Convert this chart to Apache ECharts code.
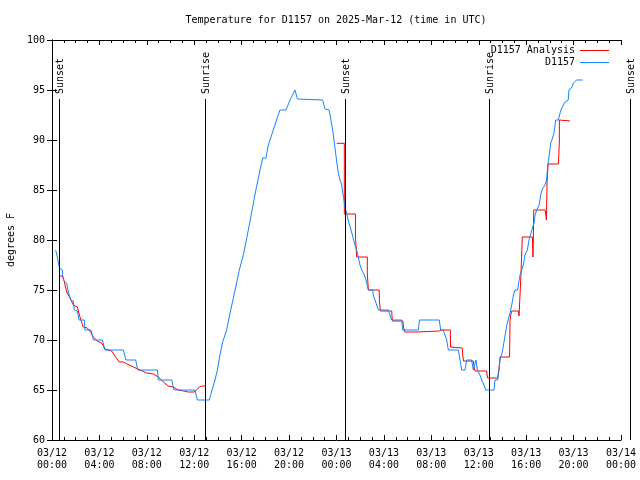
<!DOCTYPE html>
<html>
<head>
<meta charset="utf-8">
<script src="https://cdn.jsdelivr.net/npm/echarts@6/dist/echarts.min.js"></script>
<style>html,body{margin:0;padding:0;background:#fff;}#c{width:640px;height:480px;}</style>
</head>
<body>
<div id="c"></div>
<script>
// Hours since 2025-03-12 00:00 UTC
const tickLabels = ['03/12\n00:00','03/12\n04:00','03/12\n08:00','03/12\n12:00','03/12\n16:00','03/12\n20:00',
  '03/13\n00:00','03/13\n04:00','03/13\n08:00','03/13\n12:00','03/13\n16:00','03/13\n20:00','03/14\n00:00'];

const eventHours = [0.57, 12.87, 24.68, 36.87, 48.75];
const eventLabels = ['Sunset', 'Sunrise', 'Sunset', 'Sunrise', 'Sunset'];

const analysis = [
  [0.62,76.4],[0.87,76.4],[1.0,76.0],[1.24,74.8],[1.52,74.2],[1.8,73.5],[2.14,73.3],[2.36,72.3],[2.64,71.3],
  [2.98,71.2],[3.26,70.8],[3.49,70.3],[3.82,69.9],[4.19,69.7],[4.47,69.1],[5.03,68.9],[5.31,68.4],[5.68,67.8],
  [6.02,67.8],[6.35,67.6],[6.86,67.3],[7.42,67.0],[7.99,66.7],[8.55,66.6],[8.97,66.3],[9.39,65.8],[9.81,65.4],
  [10.23,65.3],[10.66,65.0],[11.08,64.9],[11.5,64.8],[11.98,64.8],[12.2,65.0],[12.43,65.3],[12.63,65.4],[12.97,65.4],
  [18.0,null],
  [24.02,89.67],[24.66,89.67],[24.66,82.6],[25.6,82.6],[25.6,80.4],[25.7,80.4],[25.7,78.3],[26.6,78.3],[26.6,76.6],
  [26.69,76.6],[26.69,75.0],[27.6,75.0],[27.62,73.9],[27.7,72.9],[28.66,72.9],[28.68,72.4],[28.72,71.9],[29.6,71.9],
  [29.65,71.3],[29.75,70.8],[30.7,70.8],[30.7,70.9],[32.7,70.9],[32.9,71.0],[33.6,71.0],[33.62,69.3],[34.6,69.2],
  [34.65,68.5],[34.72,67.9],[35.54,67.9],[35.6,67.4],[35.68,66.9],[36.67,66.9],[36.7,66.5],[36.75,66.2],[37.6,66.2],
  [37.65,66.4],[37.72,67.3],[37.8,68.3],[38.6,68.3],[38.64,72.0],[38.7,72.5],[38.78,72.9],[39.34,72.9],[39.4,72.4],
  [39.56,72.4],[39.56,76.5],[39.67,76.5],[39.67,80.3],[40.52,80.3],[40.58,78.3],[40.64,83.0],[41.59,83.0],[41.64,82.7],
  [41.71,82.0],[41.76,85.7],[41.85,87.6],[42.72,87.6],[42.8,89.8],[42.8,92.0],[43.7,91.9]
];

const observed = [
  [0.31,79.0],[0.45,78.3],[0.53,77.8],[0.62,77.2],[0.87,77.0],[0.9,76.5],[1.01,75.9],[1.24,75.7],[1.38,74.8],
  [1.58,74.0],[1.8,73.9],[1.88,73.0],[2.14,72.9],[2.28,72.0],[2.73,72.0],[2.78,71.0],[3.29,71.0],[3.49,70.0],
  [4.25,70.0],[4.47,69.0],[6.02,69.0],[6.24,68.0],[7.06,68.0],[7.23,67.0],[8.89,67.0],[8.97,66.0],[10.1,66.0],
  [10.29,65.0],[12.06,65.0],[12.26,64.0],[13.27,64.0],[13.5,65.0],[13.75,66.0],[13.95,67.0],[14.17,68.5],
  [14.37,69.7],[14.73,71.0],[15.02,72.7],[15.3,74.2],[15.63,76.0],[15.8,77.0],[16.1,78.3],[16.4,80.0],[16.8,82.5],
  [17.2,85.0],[17.55,87.0],[17.77,88.2],[18.05,88.2],[18.25,89.5],[18.67,91.0],[19.0,92.2],[19.23,93.0],[19.74,93.0],
  [20.08,94.0],[20.5,95.0],[20.7,94.1],[20.75,94.0],[22.83,94.0],[23.03,93.1],[23.37,93.0],[23.5,92.2],[23.68,91.0],
  [23.82,89.7],[24.0,88.0],[24.15,86.7],[24.3,86.0],[24.44,85.5],[24.52,84.8],[24.63,84.0],[24.72,83.2],[24.86,82.7],
  [24.94,82.2],[25.05,81.7],[25.2,81.1],[25.34,80.5],[25.42,80.1],[25.56,79.5],[25.7,79.0],[25.84,78.3],[25.98,77.5],
  [26.13,77.0],[26.35,76.5],[26.49,76.0],[26.69,75.0],[27.05,75.0],[27.1,74.5],[27.25,74.0],[27.39,73.5],[27.53,73.0],
  [28.37,73.0],[28.51,72.5],[28.66,72.0],[29.5,72.0],[29.58,71.0],[30.9,71.0],[31.0,72.0],[32.67,72.0],[32.79,71.0],
  [33.0,71.0],[33.15,70.5],[33.3,70.0],[33.43,69.0],[34.28,69.0],[34.42,68.0],[34.56,67.0],[34.84,67.0],[34.98,68.0],
  [35.4,68.0],[35.54,67.0],[35.77,68.0],[35.88,67.0],[36.1,66.5],[36.25,66.0],[36.44,65.5],[36.59,65.0],[37.29,65.0],
  [37.37,66.0],[37.6,66.0],[37.71,67.0],[37.79,68.0],[37.99,68.8],[38.13,69.8],[38.27,70.8],[38.41,71.7],[38.64,72.7],
  [38.78,73.5],[38.86,74.0],[38.92,74.5],[39.06,75.0],[39.28,75.0],[39.34,75.5],[39.48,76.5],[39.62,77.0],[39.76,77.5],
  [39.9,78.5],[40.1,79.0],[40.24,80.0],[40.41,80.7],[40.52,81.2],[40.66,81.7],[40.75,82.5],[40.89,83.0],[41.1,83.5],
  [41.22,84.5],[41.36,85.1],[41.59,85.5],[41.73,86.0],[41.82,87.5],[41.95,88.5],[42.07,89.7],[42.2,90.1],[42.35,90.7],
  [42.49,92.0],[42.71,92.0],[42.86,92.7],[43.0,93.2],[43.28,93.8],[43.33,94.0],[43.55,94.0],[43.61,95.0],[43.83,95.2],
  [43.98,95.7],[44.26,96.0],[44.77,96.0]
];

const FONT = 'DejaVu Sans Mono';
const LINE_TOP = 94.1;

const chart = echarts.init(document.getElementById('c'), null, {renderer: 'canvas'});
const xCommon = {
  type: 'value', min: 0, max: 48, interval: 4,
  axisLine: {show: true, lineStyle: {color: '#000', width: 1}},
  axisTick: {show: true, inside: true, length: 5, lineStyle: {color: '#000'}},
  minorTick: {show: true, splitNumber: 4, length: 3, lineStyle: {color: '#000'}},
  splitLine: {show: false}
};
const yCommon = {
  type: 'value', min: 60, max: 100, interval: 5,
  axisLine: {show: true, lineStyle: {color: '#000', width: 1}},
  axisTick: {show: true, inside: true, length: 5, lineStyle: {color: '#000'}},
  splitLine: {show: false}
};

chart.setOption({
  animation: false,
  backgroundColor: '#fff',
  title: {
    text: 'Temperature for D1157 on 2025-Mar-12 (time in UTC)',
    left: 331, top: 10, textAlign: 'center',
    textStyle: {fontFamily: FONT, fontSize: 10, fontWeight: 'normal', color: '#000'}
  },
  legend: {
    data: ['D1157 Analysis', 'D1157'],
    orient: 'vertical', right: 26, top: 40, align: 'right',
    itemWidth: 29, itemHeight: 1, itemGap: 1, icon: 'rect',
    textStyle: {fontFamily: FONT, fontSize: 10, color: '#000', lineHeight: 11}
  },
  grid: {left: 52, right: 19, top: 40, bottom: 40, containLabel: false, outerBoundsMode: 'none'},
  xAxis: [
    Object.assign({}, xCommon, {
      position: 'bottom',
      axisLabel: {show: true, margin: 7, fontFamily: FONT, fontSize: 10, color: '#000', lineHeight: 12,
        formatter: v => tickLabels[Math.round(v / 4)]}
    }),
    Object.assign({}, xCommon, {position: 'top', axisLabel: {show: false}})
  ],
  yAxis: [
    Object.assign({}, yCommon, {
      position: 'left',
      name: 'degrees F', nameLocation: 'middle', nameGap: 35, nameRotate: 90,
      nameTextStyle: {fontFamily: FONT, fontSize: 10, color: '#000'},
      axisLabel: {show: true, margin: 7, fontFamily: FONT, fontSize: 10, color: '#000'}
    }),
    Object.assign({}, yCommon, {position: 'right', axisLabel: {show: false}})
  ],
  series: [
    {
      name: 'D1157 Analysis', type: 'line', data: analysis, xAxisIndex: 0, yAxisIndex: 0,
      showSymbol: false, symbol: 'none', connectNulls: false,
      lineStyle: {color: '#ff0000', width: 1}, itemStyle: {color: '#ff0000'}, z: 2
    },
    {
      name: 'D1157', type: 'line', data: observed, xAxisIndex: 0, yAxisIndex: 0,
      showSymbol: false, symbol: 'none',
      lineStyle: {color: '#1585ff', width: 1}, itemStyle: {color: '#1585ff'}, z: 3
    },
    {
      name: 'events', type: 'custom', coordinateSystem: 'cartesian2d', clip: false, silent: true, z: 5,
      xAxisIndex: 0, yAxisIndex: 0,
      data: eventHours.map(h => [h, 60]),
      renderItem: function (params, api) {
        const h = api.value(0);
        const p0 = api.coord([h, 60]);
        const p1 = api.coord([h, LINE_TOP]);
        const x = Math.round(p0[0]) + 0.5;
        return {
          type: 'group',
          children: [
            {type: 'line', shape: {x1: x, y1: p0[1], x2: x, y2: p1[1]}, style: {stroke: '#000', lineWidth: 1}},
            {type: 'text', x: x + 1, y: p1[1] - 5, rotation: Math.PI / 2,
              style: {text: eventLabels[params.dataIndex], align: 'left', verticalAlign: 'middle',
                fontFamily: FONT, fontSize: 10, fill: '#000'}}
          ]
        };
      }
    }
  ]
});
</script>
</body>
</html>
